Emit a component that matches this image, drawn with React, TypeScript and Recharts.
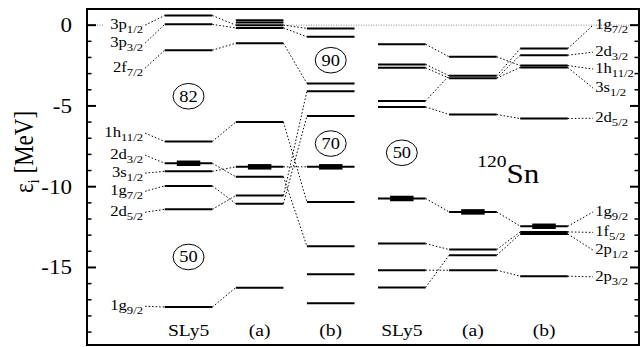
import React from "react";
import { ComposedChart, XAxis, YAxis, ReferenceLine, ReferenceDot, ReferenceArea, Scatter } from "recharts";

// ---------------- data ----------------
const columns = ["SLy5", "(a)", "(b)", "SLy5", "(a)", "(b)"];

// single-particle energies [MeV]
const neutronSLy5 = [0.6, 0.05, -1.55, -7.2, -8.55, -9.05, -9.95, -11.4, -17.45];
const neutronA = [0.31, 0.17, 0.0, -0.17, -1.12, -6.0, -8.77, -9.39, -10.55, -11.05, -16.25];
const neutronB = [-0.2, -0.72, -3.61, -4.09, -5.62, -8.77, -10.94, -13.68, -15.42, -17.21];
const protonSLy5 = [-1.18, -2.43, -2.64, -4.69, -5.06, -10.73, -13.52, -15.17, -16.24];
const protonA = [-1.96, -3.13, -3.28, -5.53, -11.56, -13.89, -14.24, -15.17];
const protonB = [-1.45, -1.86, -2.5, -2.62, -5.78, -12.45, -12.8, -12.93, -15.54];

// Fermi energies (thick bars) per column
const fermiEnergies = [-8.55, -8.77, -8.77, -10.73, -11.56, -12.45];

// correspondences [index in column i, index in column i+1]
const links01 = [[0, 2], [1, 3], [2, 4], [3, 5], [4, 7], [5, 6], [6, 9], [7, 8], [8, 10]];
const links12 = [[2, 0], [3, 1], [4, 2], [5, 6], [6, 5], [7, 7], [8, 3], [9, 4]];
const links34 = [[0, 0], [1, 1], [2, 2], [3, 1], [4, 3], [5, 4], [6, 5], [7, 7], [8, 6]];
const links45 = [[0, 2], [1, 0], [2, 1], [2, 3], [3, 4], [4, 5], [5, 6], [6, 7], [7, 8]];

// orbital labels (name, subscript) for neutronSLy5 levels (left) and protonB levels (right)
const neutronLabels = [["3p", "1/2"], ["3p", "3/2"], ["2f", "7/2"], ["1h", "11/2"], ["2d", "3/2"], ["3s", "1/2"], ["1g", "7/2"], ["2d", "5/2"], ["1g", "9/2"]];
const protonLabels = [["1g", "7/2"], ["2d", "3/2"], ["1h", "11/2"], ["3s", "1/2"], ["2d", "5/2"], ["1g", "9/2"], ["1f", "5/2"], ["2p", "1/2"], ["2p", "3/2"]];

const magicNumbers = ["82", "50", "90", "70", "50"];
const nucleusMass = "120";
const nucleusSymbol = "Sn";

const majorTicks = [0, -5, -10, -15];
const minorTicks = [0, -1, -2, -3, -4, -5, -6, -7, -8, -9, -10, -11, -12, -13, -14, -15, -16, -17, -18, -19];
const xTicks = [0, 1, 2, 3, 4, 5];

// ---------------- layout ----------------
const FONT = "Liberation Serif, Times New Roman, serif";
const SX = 1.15; // horizontal stretch of the text, as in the reference
const X_MIN = -1.428, X_MAX = 6.336;
const Y_MIN = -19.8, Y_MAX = 1;
const HW = 0.335; // level half width
const FW = 0.165; // fermi bar half width
const LEFT_LINK_X = -0.61, LEFT_TEXT_X = -0.64;
const RIGHT_LINK_X = 0.69, RIGHT_TEXT_X = 0.72;
const leftLabelAnchors = [0, -1.11, -2.66, -6.69, -8.05, -9.16, -10.28, -11.58, -17.4];
const rightLabelAnchors = [0, -1.67, -2.72, -3.9, -5.76, -11.56, -12.83, -13.93, -15.58];
const magicPos = [[0, -4.4], [0, -14.35], [2, -2.17], [2, -7.33], [3, -7.9]];
const nucleusPos = [4.06, -9.78];

const levelSets = [neutronSLy5, neutronA, neutronB, protonSLy5, protonA, protonB];
const levelPoints = levelSets.flatMap((set, c) => set.map((e) => ({ x: c, y: e })));

const SText = ({ x, y, anchor = "start", size, children }: any) => (
  <text
    transform={`translate(${x},${y}) scale(${SX},1)`}
    textAnchor={anchor}
    fontFamily={FONT}
    fontSize={size}
    fill="#000"
  >
    {children}
  </text>
);

const LeftTick = (p: any) => {
  const v = p.payload.value;
  const major = majorTicks.includes(v);
  return (
    <g>
      <line x1={p.x} x2={p.x + (major ? 9 : 4.5)} y1={p.y} y2={p.y} stroke="#000" strokeWidth={major ? 2 : 1.5} />
      {major && (
        <SText x={p.x - 15} y={p.y + 7} anchor="end" size={20}>
          {String(v)}
        </SText>
      )}
    </g>
  );
};

const RightTick = (p: any) => {
  const v = p.payload.value;
  const major = majorTicks.includes(v);
  return <line x1={p.x} x2={p.x - (major ? 9 : 4.5)} y1={p.y} y2={p.y} stroke="#000" strokeWidth={major ? 2 : 1.5} />;
};

const BottomTick = (p: any) => (
  <SText x={p.x} y={p.y} anchor="middle" size={17}>
    {columns[p.payload.value]}
  </SText>
);

const YLabel = (p: any) => {
  const vb = p.viewBox || { x: 0, y: 9, width: 87, height: 336 };
  const cx = vb.x + 33;
  const cy = vb.y + vb.height / 2 - 25;
  return (
    <text transform={`translate(${cx},${cy}) rotate(-90) scale(1,${SX})`} textAnchor="middle" fontFamily={FONT} fontSize={23} fill="#000">
      ε<tspan fontSize={15} dy={5}>i</tspan>
      <tspan dy={-5}> [MeV]</tspan>
    </text>
  );
};

const orbitalShape = (name: string, sub: string, anchor: "start" | "end") => (p: any) => (
  <SText x={p.cx} y={p.cy + 4} anchor={anchor} size={14.5}>
    {name}
    <tspan fontSize={11} dy={4}>{sub}</tspan>
  </SText>
);

const magicShape = (label: string) => (p: any) => (
  <g>
    <ellipse cx={p.cx} cy={p.cy} rx={15.5} ry={12.8} fill="none" stroke="#000" strokeWidth={1} />
    <SText x={p.cx} y={p.cy + 5.5} anchor="middle" size={16}>
      {label}
    </SText>
  </g>
);

const nucleusShape = (p: any) => (
  <SText x={p.cx} y={p.cy} size={27}>
    <tspan fontSize={17} dy={-16}>{nucleusMass}</tspan>
    <tspan dy={16}>{nucleusSymbol}</tspan>
  </SText>
);

const Empty = () => <g />;

export default function App() {
  const linkSets = [
    { from: 0, pairs: links01 },
    { from: 1, pairs: links12 },
    { from: 3, pairs: links34 },
    { from: 4, pairs: links45 },
  ];
  const ax = { xAxisId: "x", yAxisId: "y" };
  const dotted = { stroke: "#000", strokeWidth: 1, strokeDasharray: "1.5 2" };
  const zero = { stroke: "#888", strokeWidth: 1, strokeDasharray: "1 1.5" };
  const refs: any[] = [];

  refs.push(<ReferenceLine key="z1" {...ax} segment={[{ x: X_MIN, y: 0 }, { x: -1.2, y: 0 }]} {...zero} />);
  refs.push(<ReferenceLine key="z2" {...ax} segment={[{ x: 1 + HW, y: 0 }, { x: X_MAX, y: 0 }]} {...zero} />);

  linkSets.forEach(({ from, pairs }) => {
    pairs.forEach(([a, b], i) => {
      refs.push(
        <ReferenceLine
          key={`l${from}-${i}`}
          {...ax}
          segment={[{ x: from + HW, y: levelSets[from][a] }, { x: from + 1 - HW, y: levelSets[from + 1][b] }]}
          {...dotted}
        />
      );
    });
  });

  levelSets.forEach((set, c) => {
    set.forEach((e, i) => {
      refs.push(
        <ReferenceLine key={`v${c}-${i}`} {...ax} segment={[{ x: c - HW, y: e }, { x: c + HW, y: e }]} stroke="#000" strokeWidth={2} />
      );
    });
  });

  fermiEnergies.forEach((e, c) => {
    refs.push(
      <ReferenceLine key={`f${c}`} {...ax} segment={[{ x: c - FW, y: e }, { x: c + FW, y: e }]} stroke="#000" strokeWidth={5.5} />
    );
  });

  neutronLabels.forEach(([n, s], i) => {
    refs.push(
      <ReferenceLine key={`ll${i}`} {...ax} segment={[{ x: LEFT_LINK_X, y: leftLabelAnchors[i] }, { x: -HW, y: neutronSLy5[i] }]} {...dotted} />
    );
    refs.push(
      <ReferenceDot key={`lt${i}`} {...ax} x={LEFT_TEXT_X} y={leftLabelAnchors[i]} r={1} shape={orbitalShape(n, s, "end")} />
    );
  });

  protonLabels.forEach(([n, s], i) => {
    refs.push(
      <ReferenceLine key={`rl${i}`} {...ax} segment={[{ x: 5 + HW, y: protonB[i] }, { x: 5 + RIGHT_LINK_X, y: rightLabelAnchors[i] }]} {...dotted} />
    );
    refs.push(
      <ReferenceDot key={`rt${i}`} {...ax} x={5 + RIGHT_TEXT_X} y={rightLabelAnchors[i]} r={1} shape={orbitalShape(n, s, "start")} />
    );
  });

  magicNumbers.forEach((m, i) => {
    refs.push(<ReferenceDot key={`m${i}`} {...ax} x={magicPos[i][0]} y={magicPos[i][1]} r={1} shape={magicShape(m)} />);
  });

  refs.push(<ReferenceDot key="nuc" {...ax} x={nucleusPos[0]} y={nucleusPos[1]} r={1} shape={nucleusShape} />);

  return (
    <div style={{ position: "absolute", left: 0, top: 0 }}>
      <ComposedChart width={642} height={347} margin={{ top: 9, right: 3, bottom: 2, left: 0 }}>
        <XAxis
          xAxisId="x"
          dataKey="x"
          type="number"
          domain={[X_MIN, X_MAX]}
          allowDataOverflow
          ticks={xTicks}
          interval={0}
          mirror
          height={20}
          axisLine={false}
          tickLine={false}
          tickSize={0}
          tickMargin={9}
          tick={BottomTick}
        />
        <YAxis
          yAxisId="y"
          dataKey="y"
          type="number"
          domain={[Y_MIN, Y_MAX]}
          allowDataOverflow
          ticks={minorTicks}
          interval={0}
          width={87}
          axisLine={false}
          tickLine={false}
          tickSize={0}
          tickMargin={0}
          tick={LeftTick}
          label={{ content: YLabel }}
        />
        <YAxis
          yAxisId="r"
          orientation="right"
          mirror
          type="number"
          domain={[Y_MIN, Y_MAX]}
          allowDataOverflow
          ticks={minorTicks}
          interval={0}
          width={10}
          axisLine={false}
          tickLine={false}
          tickSize={0}
          tickMargin={0}
          tick={RightTick}
        />
        <Scatter xAxisId="x" yAxisId="y" data={levelPoints} shape={Empty} isAnimationActive={false} />
        <ReferenceArea {...ax} x1={X_MIN} x2={X_MAX} y1={Y_MIN} y2={Y_MAX} fill="none" fillOpacity={0} stroke="#000" strokeWidth={2} />
        {refs}
      </ComposedChart>
    </div>
  );
}
